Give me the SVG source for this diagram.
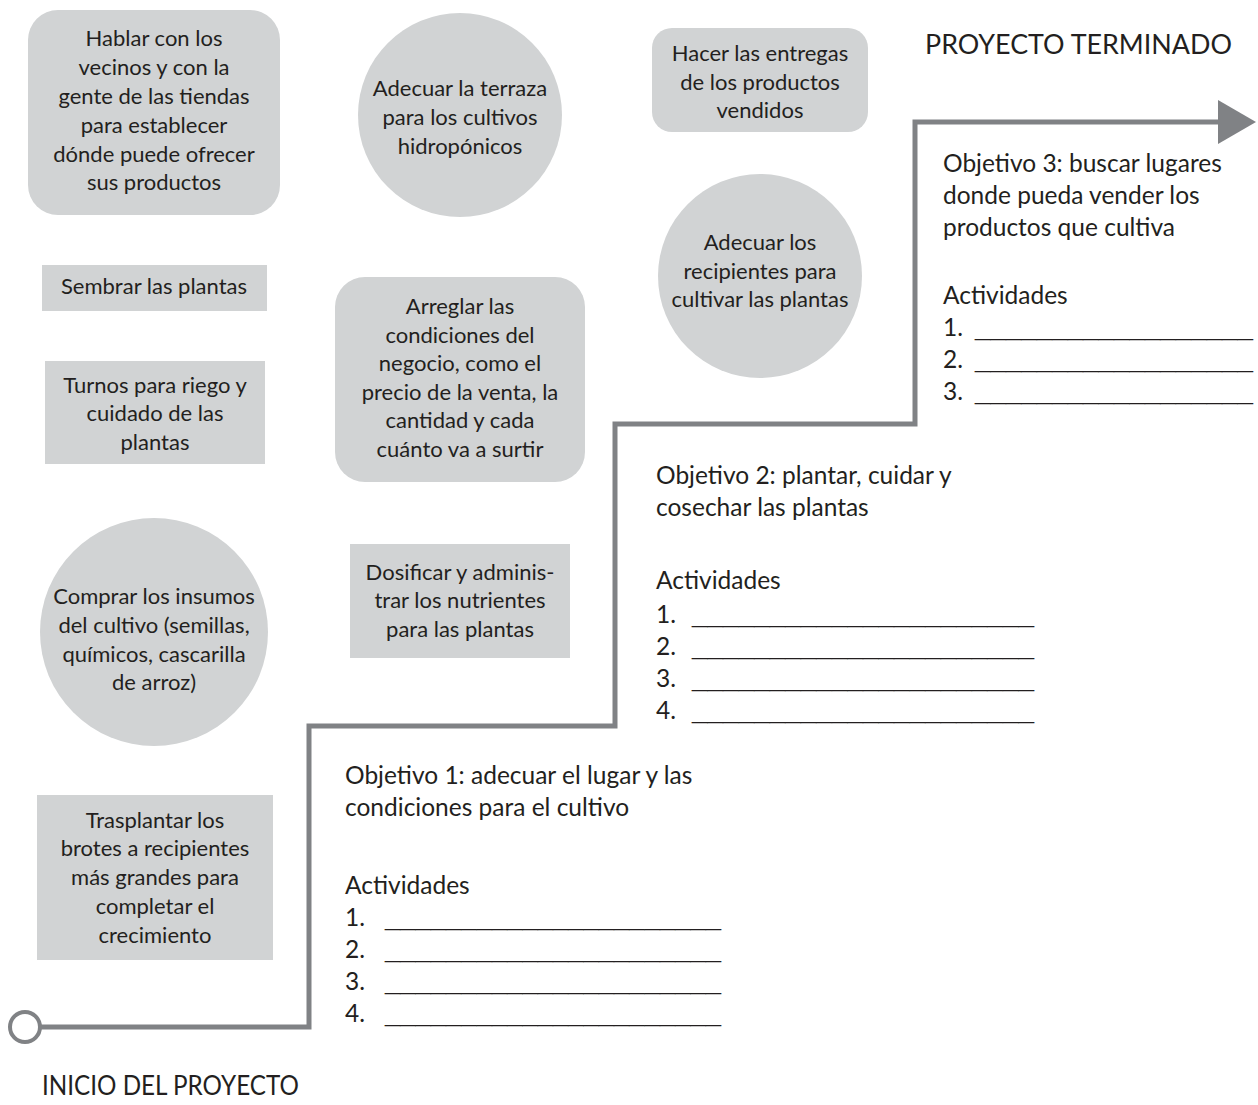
<svg xmlns="http://www.w3.org/2000/svg" width="1258" height="1105" viewBox="0 0 1258 1105">
  <style>
    text { font-family: Lato, "Liberation Sans", sans-serif; fill: #231f20; }
    .node { fill: #d1d3d4; }
    .lbl { font-size: 22px; text-anchor: middle; }
    .obj { font-size: 24.5px; }
    .blank { font-family: "Liberation Sans", Arial, sans-serif; font-size: 22px; }
    .title { font-size: 27px; }
    .path { fill: none; stroke: #808285; stroke-width: 5; stroke-linejoin: miter; }
  </style>

  <rect width="1258" height="1105" fill="#ffffff"/>

  <!-- timeline path from start to finish -->
  <g id="connectors">
    <circle cx="25" cy="1027" r="15" fill="#ffffff" stroke="#808285" stroke-width="4"/>
    <polyline class="path" points="40,1027 309,1027 309,726 615,726 615,424 915,424 915,122 1222,122"/>
    <polygon points="1218,100 1256,122 1218,144" fill="#808285"/>
  </g>

  <!-- activity nodes -->
  <g id="hablar">
    <rect class="node" x="28" y="10" width="252" height="205" rx="30"/>
    <text class="lbl" x="154" y="46">Hablar con los</text>
    <text class="lbl" x="154" y="75">vecinos y con la</text>
    <text class="lbl" x="154" y="104">gente de las tiendas</text>
    <text class="lbl" x="154" y="133">para establecer</text>
    <text class="lbl" x="154" y="162">dónde puede ofrecer</text>
    <text class="lbl" x="154" y="190">sus productos</text>
  </g>

  <g id="terraza">
    <circle class="node" cx="460" cy="115" r="102"/>
    <text class="lbl" x="460" y="96">Adecuar la terraza</text>
    <text class="lbl" x="460" y="125">para los cultivos</text>
    <text class="lbl" x="460" y="154">hidropónicos</text>
  </g>

  <g id="entregas">
    <rect class="node" x="652" y="28" width="216" height="104" rx="20"/>
    <text class="lbl" x="760" y="61">Hacer las entregas</text>
    <text class="lbl" x="760" y="90">de los productos</text>
    <text class="lbl" x="760" y="118">vendidos</text>
  </g>

  <g id="recipientes">
    <circle class="node" cx="760" cy="276" r="102"/>
    <text class="lbl" x="760" y="250">Adecuar los</text>
    <text class="lbl" x="760" y="279">recipientes para</text>
    <text class="lbl" x="760" y="307">cultivar las plantas</text>
  </g>

  <g id="sembrar">
    <rect class="node" x="42" y="265" width="225" height="46"/>
    <text class="lbl" x="154" y="294">Sembrar las plantas</text>
  </g>

  <g id="turnos">
    <rect class="node" x="45" y="361" width="220" height="103"/>
    <text class="lbl" x="155" y="393">Turnos para riego y</text>
    <text class="lbl" x="155" y="421">cuidado de las</text>
    <text class="lbl" x="155" y="450">plantas</text>
  </g>

  <g id="arreglar">
    <rect class="node" x="335" y="277" width="250" height="205" rx="30"/>
    <text class="lbl" x="460" y="314">Arreglar las</text>
    <text class="lbl" x="460" y="343">condiciones del</text>
    <text class="lbl" x="460" y="371">negocio, como el</text>
    <text class="lbl" x="460" y="400">precio de la venta, la</text>
    <text class="lbl" x="460" y="428">cantidad y cada</text>
    <text class="lbl" x="460" y="457">cuánto va a surtir</text>
  </g>

  <g id="dosificar">
    <rect class="node" x="350" y="544" width="220" height="114"/>
    <text class="lbl" x="460" y="580">Dosificar y adminis-</text>
    <text class="lbl" x="460" y="608">trar los nutrientes</text>
    <text class="lbl" x="460" y="637">para las plantas</text>
  </g>

  <g id="comprar">
    <circle class="node" cx="154" cy="632" r="114"/>
    <text class="lbl" x="154" y="604">Comprar los insumos</text>
    <text class="lbl" x="154" y="633">del cultivo (semillas,</text>
    <text class="lbl" x="154" y="662">químicos, cascarilla</text>
    <text class="lbl" x="154" y="690">de arroz)</text>
  </g>

  <g id="trasplantar">
    <rect class="node" x="37" y="795" width="236" height="165"/>
    <text class="lbl" x="155" y="828">Trasplantar los</text>
    <text class="lbl" x="155" y="856">brotes a recipientes</text>
    <text class="lbl" x="155" y="885">más grandes para</text>
    <text class="lbl" x="155" y="914">completar el</text>
    <text class="lbl" x="155" y="943">crecimiento</text>
  </g>

  <!-- milestones -->
  <g id="inicio">
    <text class="title" x="42" y="1095" textLength="257" lengthAdjust="spacingAndGlyphs">INICIO DEL PROYECTO</text>
  </g>
  <g id="terminado">
    <text class="title" x="925" y="54" textLength="307" lengthAdjust="spacingAndGlyphs">PROYECTO TERMINADO</text>
  </g>

  <g id="objetivo1">
    <text class="obj" x="345" y="784">Objetivo 1: adecuar el lugar y las</text>
    <text class="obj" x="345" y="816">condiciones  para el cultivo</text>
    <text class="obj" x="345" y="894">Actividades</text>
    <text class="obj" x="345" y="926">1.</text>
    <text class="obj" x="345" y="958">2.</text>
    <text class="obj" x="345" y="990">3.</text>
    <text class="obj" x="345" y="1022">4.</text>
    <text class="blank" x="385" y="926" textLength="336" lengthAdjust="spacingAndGlyphs">______________________</text>
    <text class="blank" x="385" y="958" textLength="336" lengthAdjust="spacingAndGlyphs">______________________</text>
    <text class="blank" x="385" y="990" textLength="336" lengthAdjust="spacingAndGlyphs">______________________</text>
    <text class="blank" x="385" y="1022" textLength="336" lengthAdjust="spacingAndGlyphs">______________________</text>
  </g>

  <g id="objetivo2">
    <text class="obj" x="656" y="484">Objetivo 2: plantar, cuidar y</text>
    <text class="obj" x="656" y="516">cosechar las plantas</text>
    <text class="obj" x="656" y="589">Actividades</text>
    <text class="obj" x="656" y="623">1.</text>
    <text class="obj" x="656" y="655">2.</text>
    <text class="obj" x="656" y="687">3.</text>
    <text class="obj" x="656" y="719">4.</text>
    <text class="blank" x="692" y="623" textLength="342" lengthAdjust="spacingAndGlyphs">______________________</text>
    <text class="blank" x="692" y="655" textLength="342" lengthAdjust="spacingAndGlyphs">______________________</text>
    <text class="blank" x="692" y="687" textLength="342" lengthAdjust="spacingAndGlyphs">______________________</text>
    <text class="blank" x="692" y="719" textLength="342" lengthAdjust="spacingAndGlyphs">______________________</text>
  </g>

  <g id="objetivo3">
    <text class="obj" x="943" y="172">Objetivo 3: buscar lugares</text>
    <text class="obj" x="943" y="204">donde pueda vender los</text>
    <text class="obj" x="943" y="236">productos que cultiva</text>
    <text class="obj" x="943" y="304">Actividades</text>
    <text class="obj" x="943" y="336">1.</text>
    <text class="obj" x="943" y="368">2.</text>
    <text class="obj" x="943" y="400">3.</text>
    <text class="blank" x="975" y="336" textLength="278" lengthAdjust="spacingAndGlyphs">__________________</text>
    <text class="blank" x="975" y="368" textLength="278" lengthAdjust="spacingAndGlyphs">__________________</text>
    <text class="blank" x="975" y="400" textLength="278" lengthAdjust="spacingAndGlyphs">__________________</text>
  </g>
</svg>
